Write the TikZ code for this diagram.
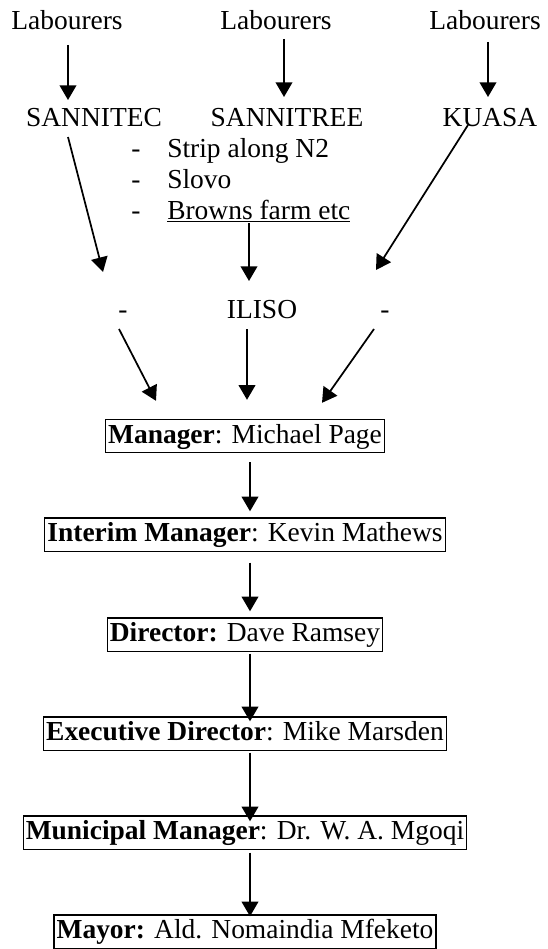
\documentclass[tikz,border=0pt]{standalone}
\usepackage{fontspec}
\setmainfont{Liberation Serif}
\usetikzlibrary{arrows.meta,calc}
\begin{document}
\begin{tikzpicture}[x=0.75pt,y=-0.75pt,
  every node/.style={font=\fontsize{20.6}{24}\selectfont, inner sep=0pt},
  txt/.style={anchor=base},
  box/.style={draw, line width=0.9pt, inner xsep=2pt, inner ysep=2.2pt, text height=15.5pt, text depth=5pt},
  arr/.style={line width=1.3pt, -{Triangle[length=11pt,width=12.5pt]}}]
\fill[white] (0,0) rectangle (547,949);
\useasboundingbox (0,0) rectangle (547,949);
% top row
\node[txt] (lab1) at (67,30) {Labourers};
\node[txt] (lab2) at (276,30) {Labourers};
\node[txt] (lab3) at (485,30) {Labourers};
\node[txt] (san1) at (94,127) {SANNITEC};
\node[txt] (san2) at (287,127) {SANNITREE};
\node[txt] (kua) at (490,127) {KUASA};
% list
\node[txt] (m1) at (136,157) {-};
\node[txt] (m2) at (136,188) {-};
\node[txt] (m3) at (136,219) {-};
\node[txt, anchor=base west] (l1) at (167,157) {Strip along N2};
\node[txt, anchor=base west] (l2) at (167,188) {Slovo};
\node[txt, anchor=base west] (l3) at (167,219) {\underline{Browns farm etc}};
% middle row
\node[txt] (d1) at (123,318) {-};
\node[txt] (iliso) at (262,318) {ILISO};
\node[txt] (d2) at (385,318) {-};
% boxes
\node[box] (mgr) at (245,436) {\textbf{Manager}: Michael Page};
\node[box] (int) at (245,534.5) {\textbf{Interim Manager}: Kevin Mathews};
\node[box] (dir) at (245,634.5) {\textbf{Director:} Dave Ramsey};
\node[box] (exe) at (245,733.5) {\textbf{Executive Director}: Mike Marsden};
\node[box] (mun) at (245,832.5) {\textbf{Municipal Manager}: Dr. W. A. Mgoqi};
\node[box] (may) at (245,931.5) {\textbf{Mayor:} Ald. Nomaindia Mfeketo};
% arrows top
\draw[arr] ($(lab1.base)+(1,15)$) -- ($(san1.base)+(-26,-27)$);
\draw[arr] ($(lab2.base)+(8,9)$) -- ($(san2.base)+(-3,-30)$);
\draw[arr] ($(lab3.base)+(3,12)$) -- ($(kua.base)+(-2,-30)$);
% diagonal arrows
\draw[arr] ($(san1.base)+(-26,10)$) -- ($(d1.base)+(-20,-46)$);
\draw[arr] ($(l3.base west)+(82,4)$) -- ($(iliso.base)+(-13,-37)$);
\draw[arr] ($(kua.base)+(-22,-2)$) -- ($(d2.base)+(-9,-48)$);
% to manager
\draw[arr] ($(d1.base)+(-4,11)$) -- ($(mgr.north)+(-89,-18)$);
\draw[arr] ($(iliso.base)+(-15,11)$) -- ($(mgr.north)+(2,-19)$);
\draw[arr] ($(d2.base)+(-11,11)$) -- ($(mgr.north)+(77,-16)$);
% chain
\draw[arr] ($(mgr.south)+(5,9)$) -- ($(int.north)+(5,-6)$);
\draw[arr] ($(int.south)+(5,11)$) -- ($(dir.north)+(5,-6)$);
\draw[arr] ($(dir.south)+(5,2)$) -- ($(exe.north)+(5,5)$);
\draw[arr] ($(exe.south)+(5,2)$) -- ($(mun.north)+(5,6)$);
\draw[arr] ($(mun.south)+(5,3)$) -- ($(may.north)+(5,2)$);
\end{tikzpicture}
\end{document}
